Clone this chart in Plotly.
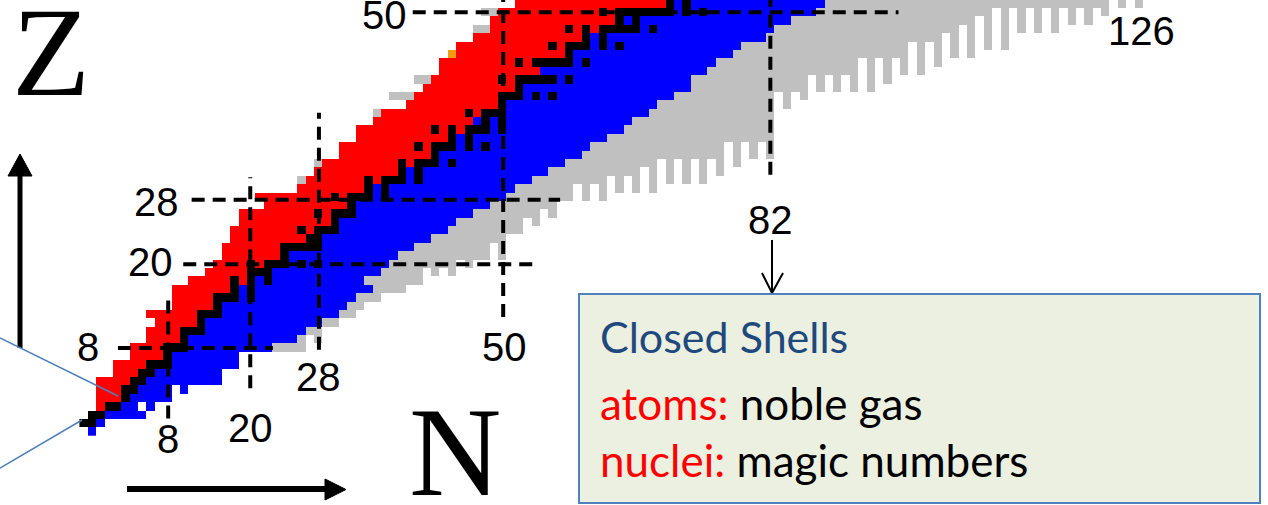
import numpy as np
import plotly.graph_objects as go

# ---------------- data ----------------
proton_Z = list(range(52))
red_start = [1, 0, 1, 2, 2, 2, 2, 4, 4, 6,
             6, 8, 8, 9, 8, 11, 11, 11, 13, 15,
             16, 17, 17, 18, 18, 19, 19, 22, 21, 26,
             27, 28, 29, 31, 31, 33, 33, 35, 36, 39,
             40, 41, 42, 43, 43, 45, 45, 47, 49, 49,
             50, 52]
red_end = [0, -1, 0, 2, 4, 4, 5, 6, 7, 9,
           9, 11, 11, 13, 13, 15, 15, 17, 19, 19,
           21, 23, 23, 26, 27, 29, 29, 31, 31, 33,
           35, 37, 39, 41, 41, 43, 45, 46, 47, 49,
           49, 51, 51, 54, 53, 57, 57, 59, 61, 63,
           63, 69]
blue_end = [1, 2, 7, 8, 10, 12, 16, 16, 18, 18,
            22, 25, 26, 28, 30, 31, 32, 34, 33, 35,
            36, 37, 39, 41, 43, 44, 46, 48, 50, 51,
            53, 55, 57, 59, 60, 62, 64, 65, 67, 68,
            70, 72, 72, 74, 75, 77, 78, 81, 82, 84,
            87, 88]
stable_N = [[], [0, 1], [1, 2], [3, 4], [5], [5, 6], [6, 7], [7, 8], [8, 9, 10], [10],
            [10, 11, 12], [12], [12, 13, 14], [14], [14, 15, 16], [16], [16, 17, 18, 20], [18, 20], [18, 20, 22], [20, 21, 22],
            [20, 22, 23, 24, 26, 28], [24], [24, 25, 26, 27, 28], [27, 28], [26, 28, 29, 30], [30], [28, 30, 31, 32], [32],
            [30, 32, 33, 34, 36], [34, 36],
            [34, 36, 37, 38, 40], [38, 40], [38, 40, 41, 42, 44], [42], [40, 42, 43, 44, 46, 48], [44, 46],
            [42, 44, 46, 47, 48, 50], [48, 50], [46, 48, 49, 50], [50],
            [50, 51, 52, 54, 56], [52], [50, 52, 53, 54, 55, 56, 58], [], [52, 54, 55, 56, 57, 58, 60], [58],
            [56, 58, 59, 60, 62, 64], [60, 62], [58, 60, 62, 63, 64, 65, 66, 68], [64, 66],
            [62, 64, 65, 66, 67, 68, 69, 70, 72, 74], [70, 72]]
# predicted (grey) nuclei: lowest Z of the grey band in each neutron column
gray_col_N = list(range(23, 127))
gray_col_floor = [10, 10, 10, 10, 12, 11, 13, 13, 14, 14,
                  15, 16, 16, 17, 17, 17, 18, 18, 20, 19,
                  20, 19, 21, 20, 21, 21, 23, 21, 24, 24,
                  26, 25, 27, 26, 28, 28, 30, 28, 30, 28,
                  31, 29, 31, 29, 32, 29, 33, 30, 33, 30,
                  33, 30, 33, 31, 35, 32, 35, 33, 35, 33,
                  41, 39, 41, 40, 43, 41, 43, 41, 43, 41,
                  45, 41, 45, 42, 45, 43, 47, 43, 47, 44,
                  48, 45, 49, 45, 50, 46, 51, 46, 51, 48,
                  51, 48, 51, 48, 51, 49, 51, 49, 51, 50,
                  52, 51, 52, 51]
extra_gray_N = [26, 28, 35, 37, 38, 39, 40, 41, 47, 48, 48, 49]
extra_gray_Z = [30, 32, 38, 40, 40, 40, 42, 42, 48, 48, 50, 50]
orange_N = [44]
orange_Z = [45]
hole_N = [7, 11]
hole_Z = [3, 5]

magic_Z_labels = ["8", "20", "28", "50"]
magic_Z_line = [9.9, 19.9, 27.6, 50.0]
magic_Z_from = [4.1, 11.9, 12.9, 39.3]
magic_Z_to = [22.6, 54.1, 56.9, 97.3]
magic_N_labels = ["8", "20", "28", "50", "82", "126"]
magic_N_line = [10.1, 19.9, 28.1, 50.1, 82.0]
magic_N_from = [1.5, 5.1, 9.7, 13.6, 30.6]
magic_N_to = [15.9, 30.3, 38.0, 52.0, 52.0]

# ---------------- build the chart grid ----------------
NMAX = 131
grid = np.full((len(proton_Z), NMAX), np.nan)
for Z in proton_Z:
    for N in range(red_start[Z], red_end[Z] + 1):
        grid[Z, N] = 1
    for N in range(max(red_end[Z] + 1, red_start[Z], 0), blue_end[Z] + 1):
        grid[Z, N] = 3
    for N in stable_N[Z]:
        grid[Z, N] = 2
for N, fl in zip(gray_col_N, gray_col_floor):
    for Z in range(fl, len(proton_Z)):
        if N > blue_end[Z] and np.isnan(grid[Z, N]):
            grid[Z, N] = 4
for N, Z in zip(extra_gray_N, extra_gray_Z):
    grid[Z, N] = 4
for N, Z in zip(orange_N, orange_Z):
    grid[Z, N] = 5
for N, Z in zip(hole_N, hole_Z):
    grid[Z, N] = np.nan

colors = ["#ff0000", "#000000", "#0000ff", "#c0c0c0", "#f39c12"]
cs = []
for i, c in enumerate(colors):
    cs += [[i / len(colors), c], [(i + 1) / len(colors), c]]

fig = go.Figure()
fig.add_trace(go.Heatmap(z=grid, x=np.arange(NMAX), y=np.array(proton_Z),
                         colorscale=cs, zmin=0.5, zmax=5.5, showscale=False,
                         hoverinfo="skip", xgap=0, ygap=0))

W, H = 1268, 505
S, X0, Y0 = 8.375, 83.6, 431.0


def P(px, py):
    return px / W, 1 - py / H


shapes = []
dash = dict(color="black", width=4, dash="13px,8px")
for y, a, b in zip(magic_Z_line, magic_Z_from, magic_Z_to):
    shapes.append(dict(type="line", xref="x", yref="y", x0=a, x1=b, y0=y, y1=y, line=dash))
for x, a, b in zip(magic_N_line, magic_N_from, magic_N_to):
    shapes.append(dict(type="line", xref="x", yref="y", x0=x, x1=x, y0=a, y1=b, line=dash))


def pline(p0, p1, color="black", width=2):
    a = P(*p0); b = P(*p1)
    shapes.append(dict(type="line", xref="paper", yref="paper", x0=a[0], y0=a[1], x1=b[0], y1=b[1],
                       line=dict(color=color, width=width)))


def ptri(pts):
    path = "M " + " L ".join(f"{P(*p)[0]},{P(*p)[1]}" for p in pts) + " Z"
    shapes.append(dict(type="path", xref="paper", yref="paper", path=path,
                       fillcolor="black", line=dict(color="black", width=1)))


# axis arrows
pline((20, 348), (20, 172), width=5)
ptri([(8, 176), (32, 176), (20, 154)])
pline((127, 489), (328, 489), width=6)
ptri([(325, 479), (325, 500), (346, 489.5)])
# arrow from 82 to the box
pline((772, 240), (772, 292), width=2)
pline((762, 273), (772, 293), width=2)
pline((783, 273), (772, 293), width=2)
# thin blue pointer lines
pline((0, 338), (118, 396), color="#4f81bd", width=1.5)
pline((0, 468), (82, 420), color="#4f81bd", width=1.5)
# legend box
b0 = P(579, 294); b1 = P(1260, 503)
shapes.append(dict(type="rect", xref="paper", yref="paper", x0=b0[0], y0=b1[1], x1=b1[0], y1=b0[1],
                   fillcolor="#ebf0e0", line=dict(color="#4f81bd", width=2)))

ann = []
numfont = dict(family="Liberation Sans, Arial", size=40, color="black")
z_lab_pos = [(0.53, 10.03), (7.93, 20.18), (8.76, 27.34), (35.87, 49.67)]
for t, (x, y) in zip(magic_Z_labels, z_lab_pos):
    ann.append(dict(x=x, y=y, xref="x", yref="y", text=t, showarrow=False, font=numfont,
                    xanchor="center", yanchor="middle"))
n_lab_pos = [(10.08, -0.96), (19.87, 0.36), (27.99, 6.45), (50.2, 10.03), (82.07, 25.19), (126.26, 47.76)]
for t, (x, y) in zip(magic_N_labels, n_lab_pos):
    ann.append(dict(x=x, y=y, xref="x", yref="y", text=t, showarrow=False, font=numfont,
                    xanchor="center", yanchor="middle"))

serif = dict(family="Liberation Serif, Times New Roman", size=128, color="black")
zx, zy = P(51, 52)
ann.append(dict(x=zx, y=zy, xref="paper", yref="paper", text="Z", showarrow=False, font=serif,
                xanchor="center", yanchor="middle"))
nx, ny = P(455, 452)
ann.append(dict(x=nx, y=ny, xref="paper", yref="paper", text="N", showarrow=False, font=serif,
                xanchor="center", yanchor="middle"))

boxfont = dict(family="Lato, Carlito, Calibri", size=44, color="black")
tx, ty = P(598, 336)
ann.append(dict(x=tx, y=ty, xref="paper", yref="paper", text="Closed Shells", showarrow=False,
                font=dict(family="Lato, Carlito, Calibri", size=43, color="#1f497d"),
                xanchor="left", yanchor="middle"))
tx, ty = P(598, 403)
ann.append(dict(x=tx, y=ty, xref="paper", yref="paper",
                text="<span style='color:#ff0000'>atoms:</span> noble gas", showarrow=False,
                font=boxfont, xanchor="left", yanchor="middle"))
tx, ty = P(598, 460)
ann.append(dict(x=tx, y=ty, xref="paper", yref="paper",
                text="<span style='color:#ff0000'>nuclei:</span> magic numbers", showarrow=False,
                font=boxfont, xanchor="left", yanchor="middle"))

fig.update_layout(
    width=W, height=H, margin=dict(l=0, r=0, t=0, b=0),
    paper_bgcolor="white", plot_bgcolor="white", showlegend=False,
    xaxis=dict(range=[(0 - X0) / S, (W - X0) / S], visible=False, showgrid=False, zeroline=False),
    yaxis=dict(range=[(Y0 - H) / S, Y0 / S], visible=False, showgrid=False, zeroline=False),
    shapes=shapes, annotations=ann,
)
fig.write_html("out.html", config={"displayModeBar": False},
               post_script="document.body.style.margin='0';document.body.style.overflow='hidden';")
